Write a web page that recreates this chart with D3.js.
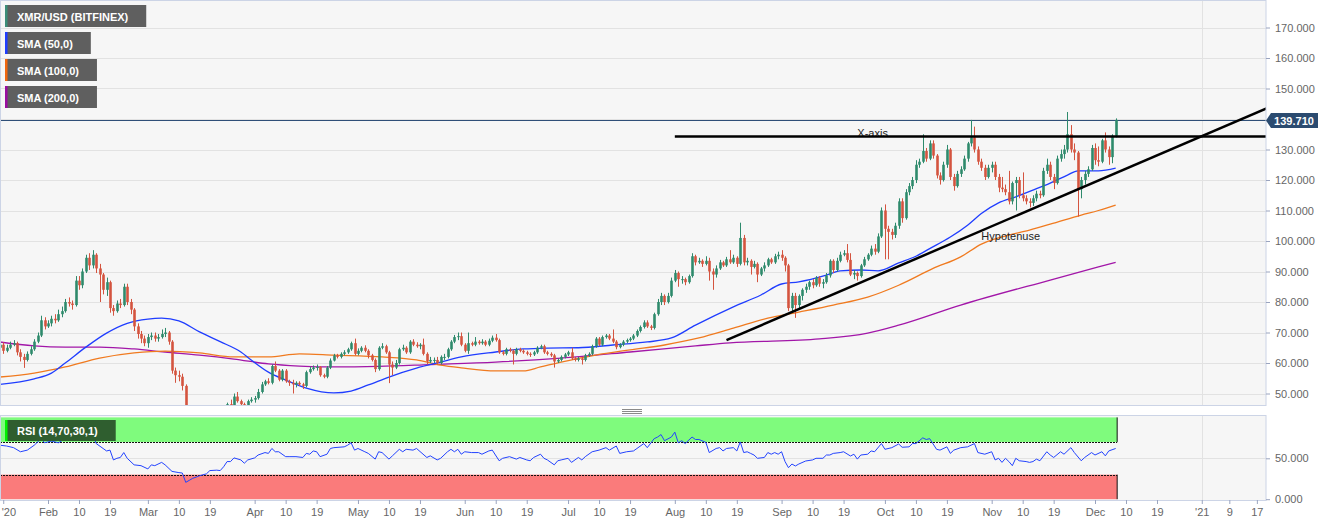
<!DOCTYPE html>
<meta charset="utf-8">
<title>XMR/USD (BITFINEX)</title>
<style>
  body { margin: 0; background: #fff; }
  svg { display: block; font-family: "Liberation Sans", Arial, sans-serif; }
</style>
<body>
<div id="chart"></div>
<script src="https://cdn.jsdelivr.net/npm/d3@7"></script>
<script>
// daily candles, first one is 2020-01-18; open = previous close
const startDate = "2020-01-18";
const firstOpen = 65;
const closes = [
  66,64,65,66,66.5,63.5,62,61,63,64.5,67,69,74,72,
  73,74.5,74,76,77,80,79.5,79,87,85.5,90,94.5,92,95.5,91,89,84,86.5,78,77,79.5,79,85,80,77.5,72,69.5,68,66.5,
  68.5,69,68,68.5,69.5,70,67,57.5,56,55.5,52.5,38,40,38,39,36,38,38.5,42,41,42,40.5,43,46.5,45.8,49,47.5,46.5,45.5,47.5,48,
  48.5,50.5,53,54,53.5,59,57.5,54.5,57.5,54,53.5,53,53.5,53,52.5,57,58,58.5,58.7,56,55.5,58.5,60.8,62.5,62,63,63.5,64.5,66.5,63,
  64,65,64,62.5,61,58,65,65.5,63.5,59.5,58.5,60,64.5,65,63.5,67,66,65.5,66,63,60.5,61,61,60,62,62,64.5,67,68.5,68.8,66,
  64,66.5,66,67,66.5,67,66,67.3,68.3,67.5,63.5,63,64.5,64,63,64.5,64,63.5,63,62.8,63.5,65,65.5,63.5,63,62.5,60.5,61,62,62.8,
  63.5,61.5,61,61.5,61,62.5,63,65.5,68,66,68.5,69,68,67,65.2,66,67,67.5,68,69,70.5,71.8,73.3,72,71.5,76,80,82,80,82,87,
  89.5,87.5,87.5,86.5,88.5,95,93,93.5,92.5,93.5,90,89,91,93,92,94,93,94.5,92.5,101,93,93.5,91.5,92.5,89,91,92,94,93,95,95.5,
  94.5,92,78,82,79,82,84,85,86.5,85.5,88,86,86.5,88.7,93.5,90.5,93.5,95.5,96,93.8,89,89.5,88.5,92,94,95.5,97.5,96.5,101.5,110,
  104,103,102,105,113,107.5,116,118,120,125,126,129.5,127,132,128,121.5,120,125,130,121,118,122,123.5,127,132,134,130,126,124,121,124,
  125,121,117.5,117,116,113,119,120,115,114,113,112.5,114,115.5,115,123,125,121,119,127,128.5,130,135,130,129,117,120,122,123.5,130.5,
  126.5,126,133,130,127.5,134.5,139.71
];
const highs = [
  67.5,66.8,66,67,67.5,67,64.5,63,63.8,65.5,67.8,70,75.5,75,
  74,75.5,76,77.5,78.5,81,81.5,80.5,88.5,88.5,91,95.5,96,97,96,92.5,89.5,88,87,79,80.5,81,86,86,81,78,73,70.5,69,
  69.5,70,70,69.5,71,71.5,70.5,67.5,58.5,57.5,56.5,53,42,41,40.5,39.5,39,39.5,43.5,44,43,42.5,44,47,48,50,50.5,48,47,48,48.8,
  49.2,51.5,53.8,54.5,55,59.5,60.5,58,58,58,54.5,54.5,54,54,53.5,57.5,58.8,59.2,59.5,59,56.5,59,61.5,63,63,63.5,64.2,65,67,68,
  64.8,65.5,65.8,64.5,63,61.5,65.5,66.5,66,64,60.5,61,65,66,65.5,67.5,67.8,66.8,66.5,68,63.5,62,61.8,62,62.5,63,65,67.5,69.2,70,70,
  66.5,70,67,68.5,67.5,67.8,67.5,68,69,69.5,68,64,65,65,64.5,65,65,64.5,64,63.5,64,65.5,66,66,64,63.5,63,61.5,62.5,63.3,
  64,65,62,62,62,63,63.5,66,68.5,68.5,69,69.5,69.5,71,67.5,66.5,67.5,68,68.5,69.5,71,72.3,74,74,72.5,76.5,81,83,82.5,83,88,
  90.5,90,88.5,88,89,96,95.5,94.5,94,95,94.5,91,92,93.8,93.5,94.8,97,95.5,95,106,102,94.5,94,93.5,93,91.5,93,94.5,94.5,95.8,96.5,
  97,95,92.5,83,83,82.5,84.5,86,87,87.5,88.5,88.5,87.5,89.5,94,94,94.5,96.5,97,99,96,90.5,90,92.5,94.8,96,98.5,99,102.5,111,
  112,105,104,106,114,114,117,119,121,126.5,127,135,130.5,133,133,128.5,122.5,126,131.5,130.5,122,123,124.5,128,132.5,139.7,137.5,131,127,125,125,
  126,126,122,121,118.5,123,119.5,121,121,122.5,115,114,115,116.5,116.5,124,127,126,122,128,130,131.5,142.3,138,132,129.5,121,123,124.5,131.5,
  132,131,133.5,135.6,131,135,140.2
];
const lows = [
  64.5,63,63.5,64.5,65.5,62.5,60.5,58.4,60.5,62.5,64,66.5,68.5,71,
  71.5,72,73,73.5,75,76.5,78.5,77.5,78.5,84,84.5,89.5,90.5,91,89.5,80,82.5,82,76.5,75.5,76.5,78,78.5,79,76,70.5,68,66.5,65.5,
  65,67.5,67,67,68,68.5,66,56.5,53.5,54,51,32,33,37,37,34.5,35.5,36.5,38,39.5,40,39.5,40,42.5,45,45.5,47,45.5,45,45,47,
  47,48,50,52.5,53,53,57,54,54,53.5,52.5,50,52,52.5,51.5,52,56.5,57.5,57.5,55.5,55,55,58,60.5,61.5,61.5,62.5,63,64,62.5,
  62.5,63.5,63.5,61.5,60.5,57,57.5,64.5,63,53.4,56,58,59.5,64,63,63,65.5,65,64.5,62.5,59.5,60,60,59.5,59.5,61,61.5,64,66.5,67.5,65.5,
  63.5,63,65.5,65.5,66,66,65.5,65.5,66.8,67,63,62.5,62.5,63.5,59.5,62.5,63.5,63,62.5,62,62.3,63,64.5,63,62.5,62,58.5,60,60.5,61.5,
  62.3,61,60.5,60.5,59.5,60.5,62,62.5,65,65.5,65.5,68,67.5,66.5,64.5,64.8,65.5,66.5,67,67.5,68.5,70,71.3,71.5,70.8,71,75.5,79,79,79.5,81.5,
  86.5,85,86,85.5,86,88,92,92.5,91.5,92,87,84,88,90.5,91.5,91.5,92.5,92.5,91.5,92,92,92,89,91,86.5,88.5,90,91.5,92.5,92.5,94,
  93.5,90,77,76.5,74.8,78,80.5,83,84,84.5,85,85,84.5,86,88,89.5,90,93,95,93,88.5,87.5,87,88,91.5,93.5,95,95.5,96,101,
  94,94,100.5,101,104,106,107,115,117,119,124,125.5,126,126.5,127,120.5,118.5,119.5,124,120,116.5,117.5,121,123,126,131,129,125,123,120,120.5,
  122.5,120,116,116,115,112,112,110,114,113,112,111,111.5,113,114,114.5,122,120,117,118.5,126,127,129,129,126.5,108,114,118.5,121,123,
  125,124.5,125.5,129,125,125.5,134
];

// moving averages: [day index, value]
const sma50 = [[0,53],[10,54.8],[15,56.7],[19,60],[25,65.2],[31,69.8],[37,73],[43,74.4],[47,74.7],[52,73.8],[58,70.2],[64,67],[70,63.6],[73,61],[78,57],[83,54.4],[89,51.8],[97,50.2],[102,50.8],[107,52.8],[113,55.4],[121,58.3],[128,60.3],[134,62],[144,63.6],[152,64.6],[159,64.9],[168,65],[178,65.9],[188,66.9],[195,68.2],[202,72.4],[213,78.4],[221,82.3],[227,85.9],[232,86.6],[240,88.8],[244,90.2],[250,90.5],[255,90.2],[261,92.8],[266,95],[270,97.5],[276,101.3],[281,105.2],[285,109],[290,112.5],[295,114.5],[300,116.7],[305,119],[310,121.6],[313,123],[319,123],[324,123.9]];
const sma100 = [[0,55.4],[10,56.7],[19,58.7],[29,61.6],[39,63.3],[48,63.9],[58,63.3],[68,62],[78,62],[87,63],[97,62.6],[111,62],[121,61],[128,59.3],[134,58.4],[144,57.4],[152,57.4],[157,58.7],[163,60.3],[173,62.6],[183,64.3],[193,65.9],[203,68.2],[213,71.4],[223,74.7],[232,76.7],[242,79],[252,81.6],[261,85.5],[271,91],[279,94.8],[285,99],[295,102.5],[299,103.6],[305,105.5],[314,108.5],[319,110],[324,111.8]];
const sma200 = [[0,66.9],[10,65.6],[19,65.2],[29,65.2],[39,64.6],[48,63.6],[58,62.6],[68,61.3],[78,59.7],[87,59],[97,58.7],[110,58.9],[125,59.5],[144,60.3],[163,61.6],[183,63.6],[202,65.6],[212,66.6],[238,67.9],[252,69.8],[261,72.4],[279,79],[305,87.2],[319,91.5],[324,93]];

// RSI (14): [day index, value]
const rsi = [[0,66],[2,65],[4,63],[6,58],[8,60],[10,66],[12,74],[13,69],[15,71],[17,69],[19,74],[21,76],[23,79],[24,75],[25,80],[27,79],[28,68],[30,62],[31,59],[32,60],[33,48],[34,50],[35,51],[36,57],[37,50],[39,42],[41,41],[43,37],[44,42],[45,41],[47,45],[48,42],[50,34],[52,32.5],[53,32],[54,20.6],[55,23],[56,25.5],[57,27],[58,28.7],[60,31],[61,35],[63,35.5],[64,35],[65,39.7],[66,46],[67,46],[68,50.5],[70,48],[71,44],[72,48],[74,50.5],[75,54],[77,57],[78,56],[79,62],[80,58],[81,58],[83,52],[84,52],[86,52],[88,51],[89,56],[90,55],[91,59],[92,58],[93,52],[95,55],[96,62],[97,63],[100,64],[101,66],[102,69],[103,60],[104,62],[106,58],[107,56],[109,49],[110,58],[111,57],[113,49],[114,53],[116,61],[117,58],[118,61],[120,60],[121,62],[124,51],[125,53],[127,48],[128,50],[130,58],
  [131,61],[132,58],[133,61],[134,55],[135,58],[137,57],[139,57],[140,55],[142,59],[143,60],[145,47],[146,50],[148,52],[150,49],[151,51],[153,48],[154,47],[155,51],[157,55],[158,50],[159,48],[161,42],[162,47],[163,48],[165,50],[166,45],[168,51],[169,48],[170,52],[172,58],[174,60],[176,63],[177,60],[179,65],[180,56],[182,58],[184,59],[185,62],[187,68],[188,63],[190,74],[191,76],[192,79],[193,71.5],[195,76],[196,82],[197,69],[198,71.5],[199,68],[201,76],[202,73],[203,73],[205,69.5],[206,57],[208,62],[209,63],[210,59],[211,62],[213,63],[214,59],[215,70],[216,57],[217,58],[218,56],[219,54],[220,50],[222,51],[223,57],[224,55],[225,57],[226,55],[227,58],[228,46],[229,38.5],[230,43],[231,40.6],[232,43],[234,46.7],[236,48],[237,50],[239,50],[240,54],[241,54],[242,56],[244,57],[245,58],[247,52.8],[248,55],[249,49],[250,54],[252,55],[253,59],[254,58],[256,68],[257,61],[259,63],[261,67.5],
  [262,63.5],[264,64],[265,68],[266,68],[268,75],[269,73],[270,74],[272,61],[273,60],[275,64],[276,56],[277,60],[279,63],[281,64],[283,68],[284,57],[286,55],[288,58],[289,48],[290,50],[291,45],[292,50],[293,46],[294,41],[295,50],[296,47],[298,46],[299,45],[300,46],[301,49],[302,47],[304,58],[305,54],[306,51],[308,58],[309,55],[311,63],[312,57],[314,47],[315,51],[317,57],[318,54],[320,58],[321,53],[322,59],[324,62]];

const lastPrice = 139.71;
const priceTicks = [50, 60, 70, 80, 90, 100, 110, 120, 130, 140, 150, 160, 170];
const priceLabelTicks = [50, 60, 70, 80, 90, 100, 110, 120, 130, 150, 160, 170];
const rsiTicks = [0, 50];
const rsiLevels = [70, 30];
const dateTicks = ["2020-01-19","2020-02-01","2020-02-10","2020-02-19","2020-03-01","2020-03-10","2020-03-19","2020-04-01","2020-04-10","2020-04-19","2020-05-01","2020-05-10","2020-05-19","2020-06-01","2020-06-10","2020-06-19","2020-07-01","2020-07-10","2020-07-19","2020-08-01","2020-08-10","2020-08-19","2020-09-01","2020-09-10","2020-09-19","2020-10-01","2020-10-10","2020-10-19","2020-11-01","2020-11-10","2020-11-19","2020-12-01","2020-12-10","2020-12-19","2021-01-01","2021-01-09","2021-01-17"];
const dateLabels = ["'20","Feb","10","19","Mar","10","19","Apr","10","19","May","10","19","Jun","10","19","Jul","10","19","Aug","10","19","Sep","10","19","Oct","10","19","Nov","10","19","Dec","10","19","'21","9","17"];
const legendNames = ["XMR/USD (BITFINEX)", "SMA (50,0)", "SMA (100,0)", "SMA (200,0)"];
const rsiName = "RSI (14,70,30,1)";

// drawn annotations, in date / price units
const flatLine = {from: "2020-08-01", to: "2021-01-25", price: 134.3, label: "X-axis", labelDate: "2020-09-23", labelPrice: 134.1};
const hypotenuse = {points: [["2020-08-16", 67.5], ["2021-01-20", 143.6]], label: "Hypotenuse", labelDate: "2020-10-29", labelPrice: 100.3};

const width = 1331, height = 526;
const right = 1266;
const priceTop = 0, priceBottom = 406, rsiTop = 415, rsiBottom = 500;

const parse = d3.utcParse("%Y-%m-%d");
const t0 = parse(startDate);
const day = i => d3.utcDay.offset(t0, i);

const candles = closes.map((c, i) => ({
  date: day(i), open: i ? closes[i - 1] : firstOpen, close: c, high: highs[i], low: lows[i]
}));

const x = d3.scaleUtc()
  .domain([parse("2020-02-01"), parse("2020-12-01")])
  .range([48, 1095]);
const y = d3.scaleLinear().domain([50, 170]).range([393.5, 27.5]);
const yr = d3.scaleLinear().domain([0, 100]).range([499.2, 417.4]);

const svg = d3.select("#chart").append("svg")
  .attr("width", width).attr("height", height);

const defs = svg.append("defs");
defs.append("clipPath").attr("id", "clipPrice")
  .append("rect").attr("x", 0).attr("y", priceTop).attr("width", right).attr("height", priceBottom - priceTop);
defs.append("clipPath").attr("id", "clipRsi")
  .append("rect").attr("x", 0).attr("y", rsiTop).attr("width", right).attr("height", rsiBottom - rsiTop);

// panels
svg.append("rect").attr("x", 0).attr("y", priceTop).attr("width", right).attr("height", priceBottom - priceTop).attr("fill", "#f6f6f6");
svg.append("rect").attr("x", 0).attr("y", rsiTop).attr("width", right).attr("height", rsiBottom - rsiTop).attr("fill", "#f6f6f6");

const grid = svg.append("g").attr("stroke", "#e2e2e2").attr("stroke-width", 1);
grid.selectAll(".hp").data(priceTicks).join("line")
  .attr("x1", 0).attr("x2", right)
  .attr("y1", d => Math.round(y(d)) + 0.5).attr("y2", d => Math.round(y(d)) + 0.5);
grid.append("line").attr("x1", 0).attr("x2", right)
  .attr("y1", Math.round(yr(50)) + 0.5).attr("y2", Math.round(yr(50)) + 0.5);
const xYear = Math.round(x(parse("2021-01-01"))) + 0.5;
grid.append("line").attr("x1", xYear).attr("x2", xYear).attr("y1", priceTop).attr("y2", priceBottom);
grid.append("line").attr("x1", xYear).attr("x2", xYear).attr("y1", rsiTop).attr("y2", rsiBottom);

// price panel content
const gp = svg.append("g").attr("clip-path", "url(#clipPrice)");

gp.append("line")
  .attr("x1", 0).attr("x2", right)
  .attr("y1", Math.round(y(lastPrice)) + 0.5).attr("y2", Math.round(y(lastPrice)) + 0.5)
  .attr("stroke", "#2f4f78").attr("stroke-width", 1);

const smaLine = d3.line().x(d => x(day(d[0]))).y(d => y(d[1])).curve(d3.curveMonotoneX);
[[sma200, "#a216a8"], [sma100, "#f07a1f"], [sma50, "#1f3dff"]].forEach(([data, color]) => {
  gp.append("path").datum(data).attr("d", smaLine)
    .attr("fill", "none").attr("stroke", color).attr("stroke-width", 1.3);
});

const up = "#2e8a6c", down = "#d4543f";
const bw = 2.6;
const cg = gp.append("g");
cg.selectAll("line").data(candles).join("line")
  .attr("x1", d => Math.round(x(d.date)) + 0.5).attr("x2", d => Math.round(x(d.date)) + 0.5)
  .attr("y1", d => y(d.high)).attr("y2", d => y(d.low))
  .attr("stroke", d => d.close >= d.open ? up : down).attr("stroke-width", 1);
cg.selectAll("rect").data(candles).join("rect")
  .attr("x", d => Math.round(x(d.date)) + 0.5 - bw / 2)
  .attr("width", bw)
  .attr("y", d => y(Math.max(d.open, d.close)))
  .attr("height", d => Math.max(1, Math.abs(y(d.open) - y(d.close))))
  .attr("fill", d => d.close >= d.open ? up : down);

// annotations
const ann = gp.append("g");
ann.append("text").attr("x", x(parse(flatLine.labelDate))).attr("y", y(flatLine.labelPrice))
  .attr("font-size", 11).attr("fill", "#222").text(flatLine.label);
ann.append("text").attr("x", x(parse(hypotenuse.labelDate))).attr("y", y(hypotenuse.labelPrice))
  .attr("font-size", 11).attr("fill", "#222").text(hypotenuse.label);
ann.append("line")
  .attr("x1", x(parse(flatLine.from))).attr("x2", x(parse(flatLine.to)))
  .attr("y1", y(flatLine.price)).attr("y2", y(flatLine.price))
  .attr("stroke", "#000").attr("stroke-width", 2.5);
ann.append("path")
  .datum(hypotenuse.points)
  .attr("d", d3.line().x(d => x(parse(d[0]))).y(d => y(d[1])))
  .attr("stroke", "#000").attr("stroke-width", 2.5).attr("fill", "none");

// RSI panel
const gr = svg.append("g").attr("clip-path", "url(#clipRsi)");
const bandRight = x(candles[candles.length - 1].date) + 1.5;
gr.append("rect").attr("x", 0).attr("width", bandRight)
  .attr("y", yr(100)).attr("height", yr(70) - yr(100)).attr("fill", "#7ffb7d");
gr.append("rect").attr("x", 0).attr("width", bandRight)
  .attr("y", yr(30)).attr("height", yr(0) - yr(30)).attr("fill", "#fa7b7b");
gr.selectAll(".lvl").data(rsiLevels).join("line")
  .attr("x1", 0).attr("x2", bandRight)
  .attr("y1", d => Math.round(yr(d)) + 0.5).attr("y2", d => Math.round(yr(d)) + 0.5)
  .attr("stroke", "#111").attr("stroke-width", 1).attr("stroke-dasharray", "2,1");
gr.append("line").attr("x1", bandRight).attr("x2", bandRight).attr("y1", yr(100)).attr("y2", yr(70))
  .attr("stroke", "#111");
gr.append("line").attr("x1", bandRight).attr("x2", bandRight).attr("y1", yr(30)).attr("y2", yr(0))
  .attr("stroke", "#111");
gr.append("path").datum(rsi)
  .attr("d", d3.line().x(d => x(day(d[0]))).y(d => yr(d[1])))
  .attr("fill", "none").attr("stroke", "#2343ff").attr("stroke-width", 1);

// panel borders
svg.append("rect").attr("x", 0.5).attr("y", priceTop + 0.5).attr("width", right - 0.5).attr("height", priceBottom - priceTop - 1)
  .attr("fill", "none").attr("stroke", "#ccd4e6");
svg.append("rect").attr("x", 0.5).attr("y", rsiTop + 0.5).attr("width", right - 0.5).attr("height", rsiBottom - rsiTop)
  .attr("fill", "none").attr("stroke", "#ccd4e6");

// splitter handle
svg.append("g").attr("stroke", "#8a8a8a").selectAll("line").data([409.5, 411.5, 413.5]).join("line")
  .attr("x1", 622).attr("x2", 642).attr("y1", d => d).attr("y2", d => d);

// axes
function styleAxis(g) {
  g.select(".domain").remove();
  g.selectAll(".tick line").attr("stroke", "#9aa4bf");
  g.selectAll(".tick text").attr("fill", "#666").attr("font-size", 11)
    .attr("font-family", '"Liberation Sans", Arial, sans-serif');
}
svg.append("g").attr("transform", `translate(${right},0)`)
  .call(d3.axisRight(y).tickValues(priceLabelTicks).tickFormat(d3.format(".3f")).tickSize(4).tickPadding(5))
  .call(styleAxis);
svg.append("g").attr("transform", `translate(${right},0)`)
  .call(d3.axisRight(yr).tickValues(rsiTicks).tickFormat(d3.format(".3f")).tickSize(4).tickPadding(5))
  .call(styleAxis);
const xAxisG = svg.append("g").attr("transform", `translate(0,${rsiBottom})`)
  .call(d3.axisBottom(x).tickValues(dateTicks.map(parse)).tickFormat((d, i) => dateLabels[i]).tickSize(4).tickPadding(4))
  .call(styleAxis);
// first label sits at the left edge: keep it inside the picture
xAxisG.select(".tick text").attr("text-anchor", "start")
  .attr("x", -Math.round(x(parse(dateTicks[0]))) + 1);

// last price marker
const py = Math.round(y(lastPrice)) + 0.5;
svg.append("path")
  .attr("d", `M${right},${py} L${right + 5},${py - 7.5} H1318 V${py + 7.5} H${right + 5} Z`)
  .attr("fill", "#2b4b70");
svg.append("text").attr("x", 1294).attr("y", py + 4).attr("text-anchor", "middle")
  .attr("fill", "#fff").attr("font-size", 11).attr("font-weight", "bold").text(d3.format(".3f")(lastPrice));

// legend boxes
const legendColors = ["#3b8d78", "#1f3dff", "#f0670f", "#9a0ca0"];
legendNames.forEach((name, i) => {
  const top = 5 + i * 27;
  const g = svg.append("g");
  const box = g.append("rect").attr("x", 7).attr("y", top).attr("height", 22).attr("fill", "#5f5f5f");
  g.append("rect").attr("x", 5).attr("y", top).attr("width", 2.5).attr("height", 22).attr("fill", legendColors[i]);
  const t = g.append("text").attr("x", 17).attr("y", top + 15.5)
    .attr("fill", "#fff").attr("font-size", 11).attr("font-weight", "bold").text(name);
  box.attr("width", t.node().getComputedTextLength() + 28);
});
{
  const top = 420;
  const g = svg.append("g");
  const box = g.append("rect").attr("x", 7).attr("y", top).attr("height", 21).attr("fill", "#2f5e2f");
  g.append("rect").attr("x", 5).attr("y", top).attr("width", 2.5).attr("height", 21).attr("fill", "#00f000");
  const t = g.append("text").attr("x", 17).attr("y", top + 15)
    .attr("fill", "#fff").attr("font-size", 11).attr("font-weight", "bold").text(rsiName);
  box.attr("width", t.node().getComputedTextLength() + 28);
}
</script>
</body>
